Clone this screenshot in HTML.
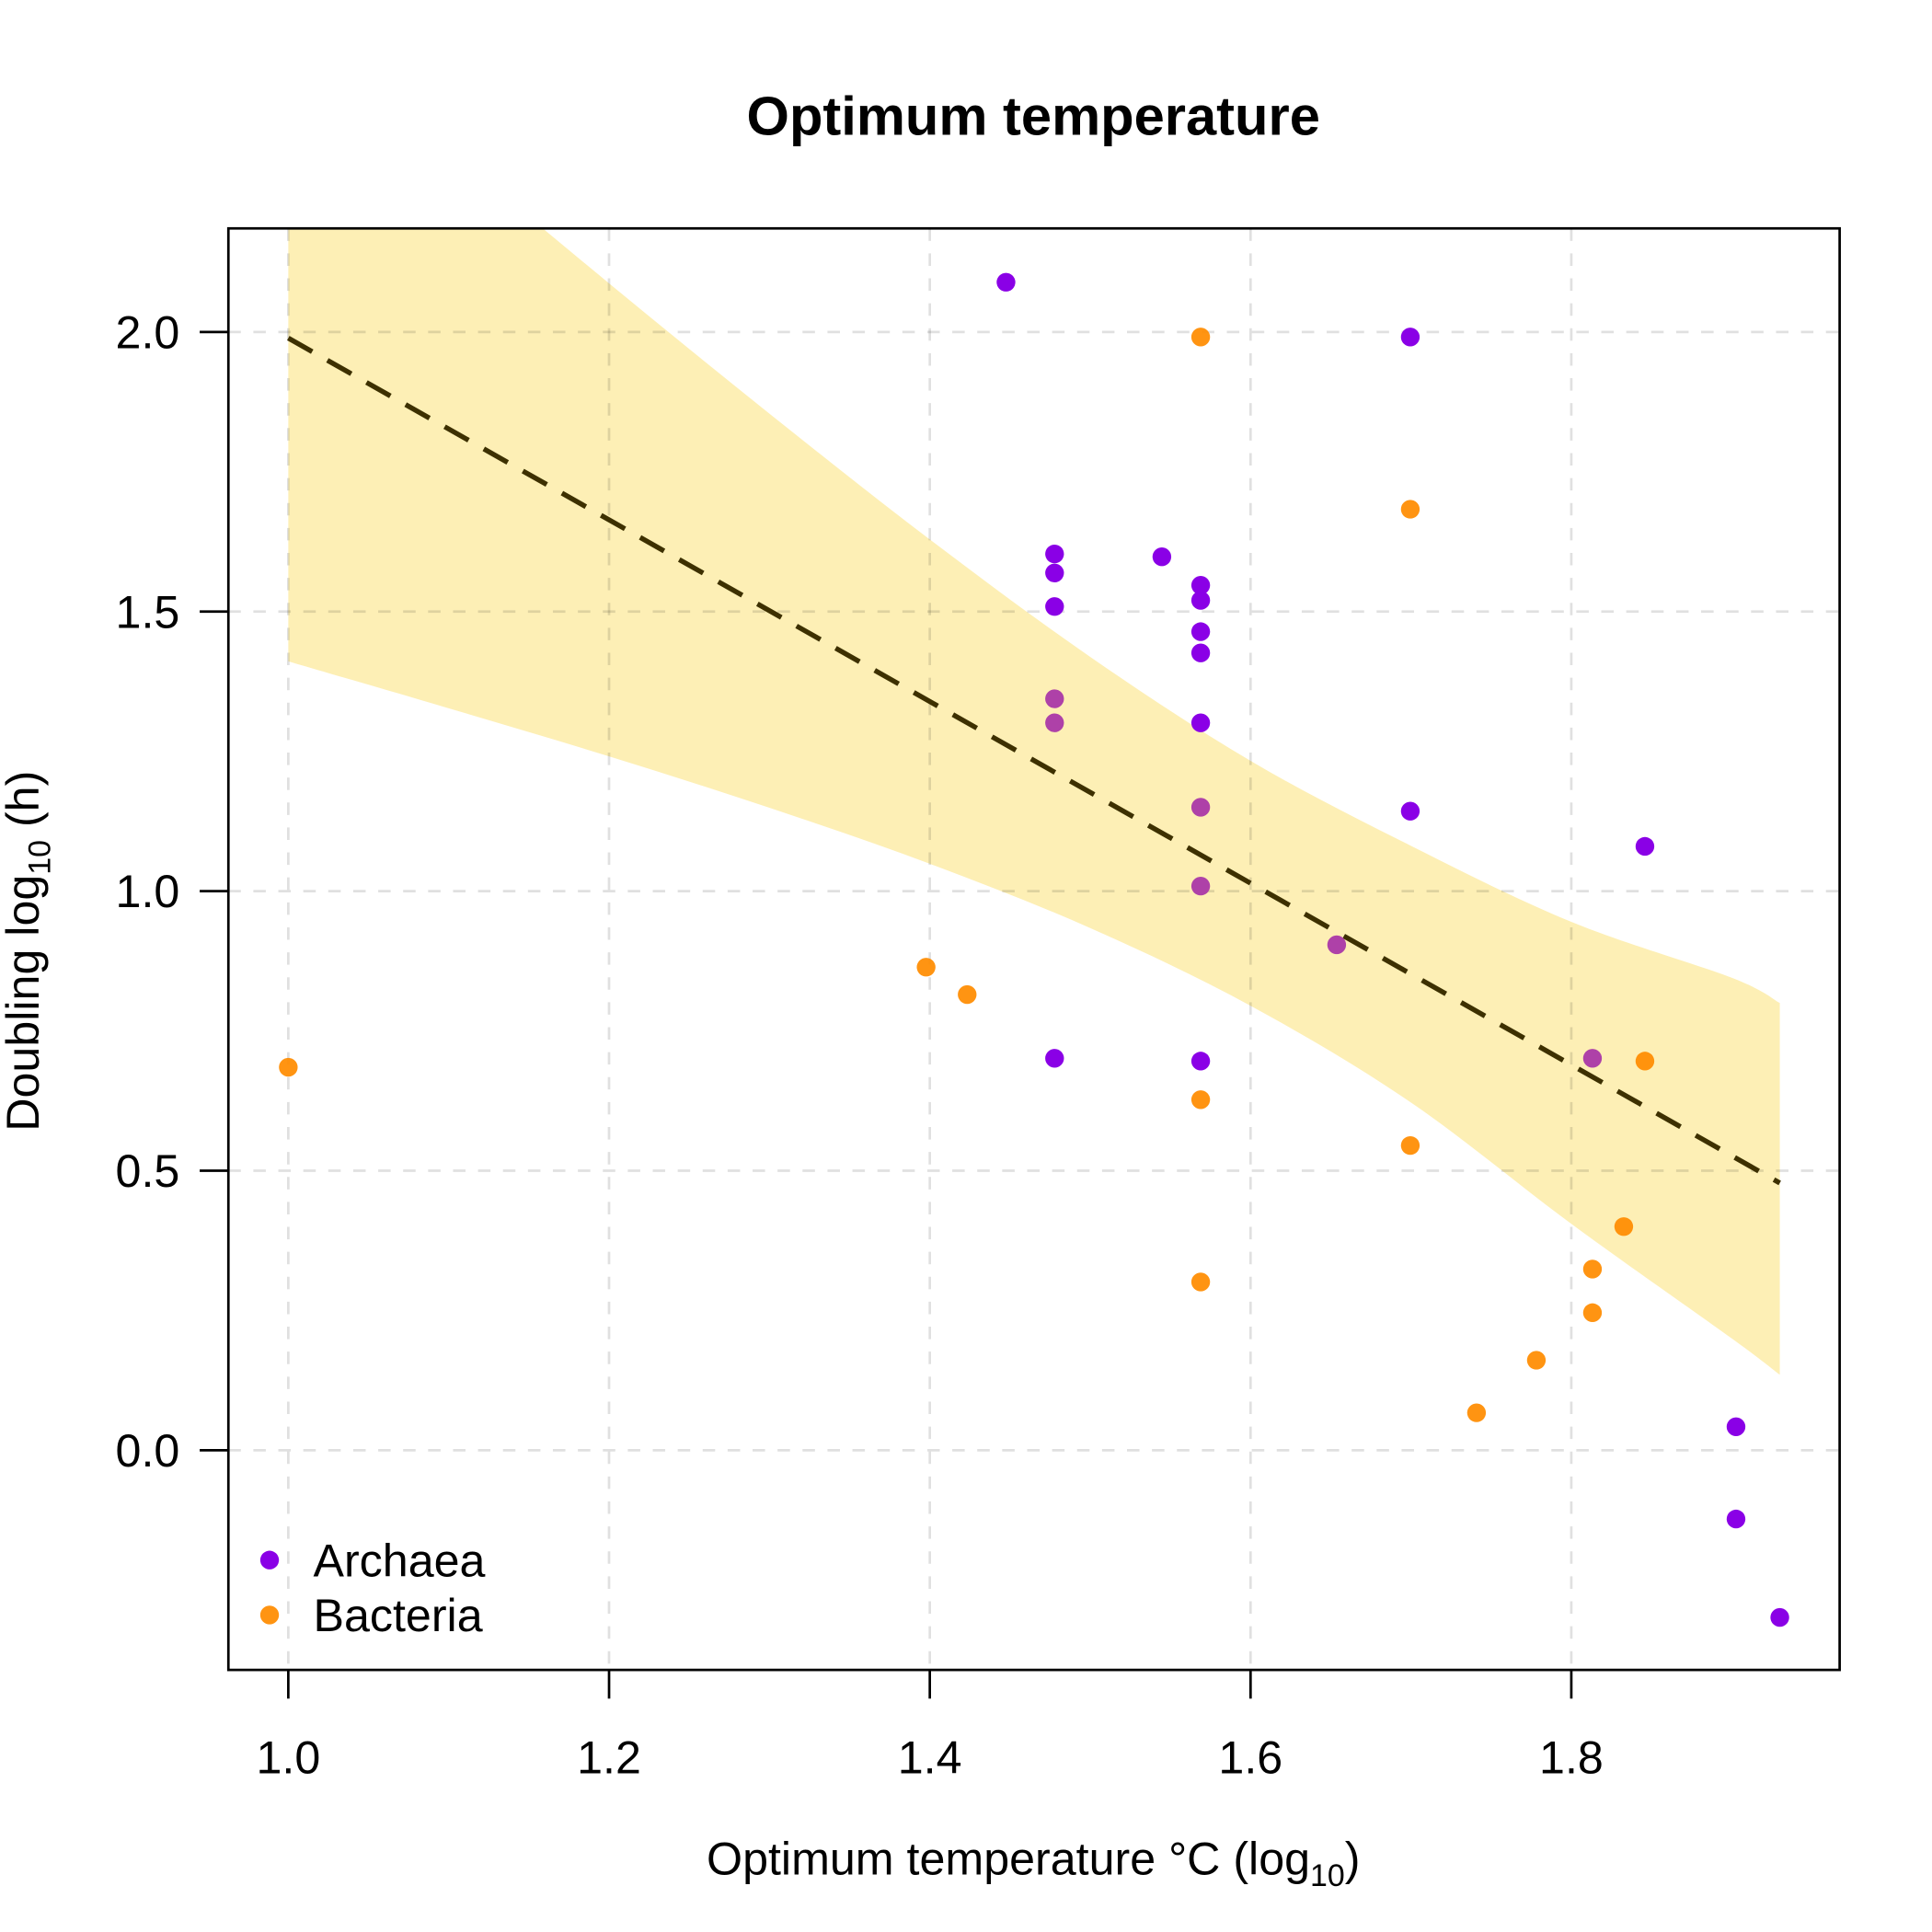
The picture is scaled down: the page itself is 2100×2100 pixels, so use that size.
<!DOCTYPE html>
<html><head><meta charset="utf-8"><style>html,body{margin:0;padding:0;background:#fff}svg{display:block}</style></head>
<body>
<svg id="chart" width="2100" height="2100" viewBox="0 0 1548 1548" xmlns="http://www.w3.org/2000/svg" font-family="'Liberation Sans', Arial, sans-serif">
<rect width="1548" height="1548" fill="#fff"/>
<text x="828" y="108" text-anchor="middle" font-size="44" font-weight="bold">Optimum temperature</text>
<text x="828" y="1502" text-anchor="middle" font-size="37">Optimum temperature °C  (log<tspan font-size="25" dy="9">10</tspan><tspan dy="-9">)</tspan></text>
<text transform="translate(31,762) rotate(-90)" text-anchor="middle" font-size="37">Doubling log<tspan font-size="25" dy="9">10</tspan><tspan dy="-9"> (h)</tspan></text>
<defs><clipPath id="plotclip"><rect x="183" y="183" width="1291" height="1155"/></clipPath></defs>
<g id="band" clip-path="url(#plotclip)"></g>
<g id="grid"></g>
<g id="fit"></g>
<g id="points"></g>
<rect x="183" y="183" width="1291" height="1155" fill="none" stroke="#000" stroke-width="2"/>
<g id="axes"></g>
<g>
<circle cx="216" cy="1250" r="7.5" fill="#8A00E6"/>
<text x="251" y="1263" font-size="37">Archaea</text>
<circle cx="216" cy="1294" r="7.5" fill="#FF8C00" opacity="0.93"/>
<text x="251" y="1307" font-size="37">Bacteria</text>
</g>
</svg>
<script>
const xTicks=[1.0,1.2,1.4,1.6,1.8];
const yTicks=[0.0,0.5,1.0,1.5,2.0];
const archaeaX=[1.4475,1.6996,1.4778,1.4778,1.4778,1.5447,1.5689,1.5689,1.5689,1.5689,1.5689,1.6996,1.8459,1.4778,1.5689,1.9027,1.9027,1.93];
const archaeaY=[2.089,1.991,1.603,1.569,1.509,1.598,1.547,1.520,1.464,1.426,1.301,1.143,1.080,0.701,0.696,0.042,-0.123,-0.299];
const bacteriaX=[1.5689,1.6996,1.3977,1.4233,1.0,1.5689,1.8459,1.6996,1.5689,1.8327,1.8132,1.8132,1.7782,1.7409];
const bacteriaY=[1.991,1.683,0.864,0.815,0.685,0.627,0.696,0.545,0.301,0.400,0.324,0.246,0.161,0.067];
const bothX=[1.4778,1.4778,1.5689,1.5689,1.6537,1.8132];
const bothY=[1.344,1.301,1.150,1.009,0.904,0.701];
const fitX=[1.0,1.93];
const fitY=[1.989,0.478];
const bandX=[1.0,1.1,1.2,1.3,1.4,1.5,1.6,1.7,1.8,1.9,1.93];
const upperY=[2.567,2.326,2.087,1.854,1.629,1.419,1.233,1.081,0.945,0.845,0.800];
const lowerY=[1.411,1.327,1.241,1.149,1.049,0.934,0.795,0.622,0.405,0.200,0.135];

const NS='http://www.w3.org/2000/svg';
const sx=v=>231+(v-1.0)*1285;
const sy=v=>1162-v*448;
function mk(tag,attrs,parent){const e=document.createElementNS(NS,tag);for(const k in attrs)e.setAttribute(k,attrs[k]);parent.appendChild(e);return e;}
function smooth(pts,start){
 let d=(start?'M':'L')+pts[0][0]+','+pts[0][1];
 for(let i=0;i<pts.length-1;i++){
  const p0=pts[Math.max(0,i-1)],p1=pts[i],p2=pts[i+1],p3=pts[Math.min(pts.length-1,i+2)];
  const c1=[p1[0]+(p2[0]-p0[0])/6,p1[1]+(p2[1]-p0[1])/6];
  const c2=[p2[0]-(p3[0]-p1[0])/6,p2[1]-(p3[1]-p1[1])/6];
  d+='C'+c1[0]+','+c1[1]+' '+c2[0]+','+c2[1]+' '+p2[0]+','+p2[1];
 }
 return d;
}
const band=document.getElementById('band'),grid=document.getElementById('grid'),fit=document.getElementById('fit'),pts=document.getElementById('points'),axes=document.getElementById('axes');

const up=bandX.map((x,i)=>[sx(x),sy(upperY[i])]);
const lo=bandX.map((x,i)=>[sx(x),sy(lowerY[i])]).reverse();
const bp=mk('path',{d:smooth(up,true)+smooth(lo,false)+'Z',fill:'#FDEFB5'},band);



xTicks.forEach(t=>{
 const g=mk('line',{x1:sx(t),x2:sx(t),y1:183,y2:1338,stroke:'#000','stroke-opacity':0.12,'stroke-width':2,'stroke-dasharray':'10,10'},grid);
 
 
 const tk=mk('line',{x1:sx(t),x2:sx(t),y1:1338,y2:1361,stroke:'#000','stroke-width':2},axes);
 
 
 const tl=mk('text',{x:sx(t),y:1421,'text-anchor':'middle','font-size':37},axes);
 tl.textContent=t.toFixed(1);
 
 
});
yTicks.forEach(t=>{
 const g=mk('line',{x1:183,x2:1474,y1:sy(t),y2:sy(t),stroke:'#000','stroke-opacity':0.12,'stroke-width':2,'stroke-dasharray':'10,10'},grid);
 
 
 const tk=mk('line',{x1:160,x2:183,y1:sy(t),y2:sy(t),stroke:'#000','stroke-width':2},axes);
 
 
 const tl=mk('text',{x:144,y:sy(t)+13,'text-anchor':'end','font-size':37},axes);
 tl.textContent=t.toFixed(1);
 
 
});

const fl=mk('line',{x1:sx(fitX[0]),y1:sy(fitY[0]),x2:sx(fitX[1]),y2:sy(fitY[1]),stroke:'#3D3000','stroke-width':4,'stroke-dasharray':'22,14'},fit);



bacteriaX.forEach((x,i)=>{
 const c=mk('circle',{cx:sx(x),cy:sy(bacteriaY[i]),r:7.5,fill:'#FF8C00',opacity:0.93},pts);
 
 
});
archaeaX.forEach((x,i)=>{
 const c=mk('circle',{cx:sx(x),cy:sy(archaeaY[i]),r:7.5,fill:'#8A00E6'},pts);
 
 
});
bothX.forEach((x,i)=>{
 const c=mk('circle',{cx:sx(x),cy:sy(bothY[i]),r:7.5,fill:'#AE41A8'},pts);
 
 
});
</script>
</body></html>
